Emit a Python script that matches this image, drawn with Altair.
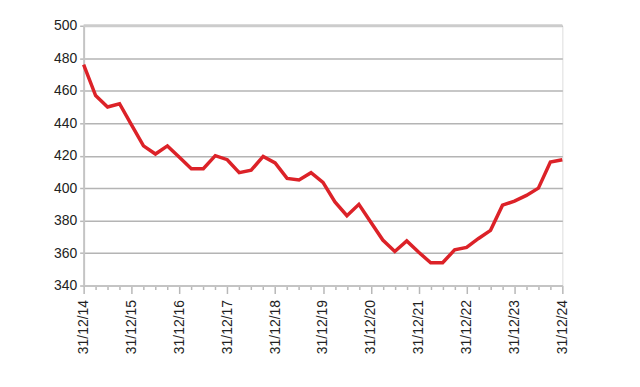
import altair as alt
import pandas as pd

labels = ["31/12/14", "31/12/15", "31/12/16", "31/12/17", "31/12/18", "31/12/19",
          "31/12/20", "31/12/21", "31/12/22", "31/12/23", "31/12/24"]
values = [476, 457, 450, 452, 439, 426, 421, 426, 419, 412, 412, 420, 417.5, 409.5,
          411, 419.5, 415.5, 406, 405, 409.5, 403.5, 391.5, 383, 390, 379, 368, 361,
          367.5, 360.5, 354, 354, 362, 363.5, 369, 374, 389.5, 392, 395.5, 400, 416, 417.5]
y_ticks = [340, 360, 380, 400, 420, 440, 460, 480, 500]

df = pd.DataFrame({"q": list(range(len(values))), "v": values})

label_expr = "datum.value % 4 == 0 ? " + str(labels) + "[datum.value / 4] : ''"

xscale = alt.Scale(domain=[0, 40], nice=False, zero=False)
yscale = alt.Scale(domain=[340, 500], nice=False, zero=False)

y_axis = alt.Axis(values=y_ticks, labelFont="Liberation Sans",
                  labelFontSize=14, labelColor="#222", labelPadding=3,
                  labelOverlap=False, labelFlush=False,
                  tickSize=4, tickColor="#b8b8b8", tickWidth=1.5,
                  domainColor="#c4c4c4", domainWidth=2,
                  grid=True, gridColor="#b4b4b4", gridWidth=1.5)

line = alt.Chart(df).mark_line(color="#dc2228", strokeWidth=3.5, strokeJoin="miter").encode(
    x=alt.X("q:Q", scale=xscale, title=None,
            axis=alt.Axis(values=list(range(41)), labelExpr=label_expr,
                          labelAngle=270, labelAlign="right", labelBaseline="middle",
                          labelFont="Liberation Sans", labelFontSize=14, labelColor="#222",
                          labelPadding=6, labelOverlap=False, labelFlush=False,
                          tickSize={"condition": {"test": "datum.value % 4 == 0", "value": 8}, "value": 4},
                          tickColor="#b8b8b8", tickWidth=1.5,
                          domainColor="#c4c4c4", domainWidth=2, grid=False)),
    y=alt.Y("v:Q", scale=yscale, title=None, axis=y_axis),
)

top = alt.Chart(pd.DataFrame({"y": [500]})).mark_rule(color="#cccccc", strokeWidth=3).encode(
    y=alt.Y("y:Q", scale=yscale, title=None, axis=y_axis)
)

chart = alt.layer(line, top).properties(
    width=481, height=261,
    autosize=alt.AutoSizeParams(type="none"),
    padding={"left": 76, "top": 17, "right": 70, "bottom": 80},
).configure_view(stroke="#c4c4c4", strokeWidth=2).configure(background="white")

chart.save("out.html", embed_options={"renderer": "svg", "actions": False})
